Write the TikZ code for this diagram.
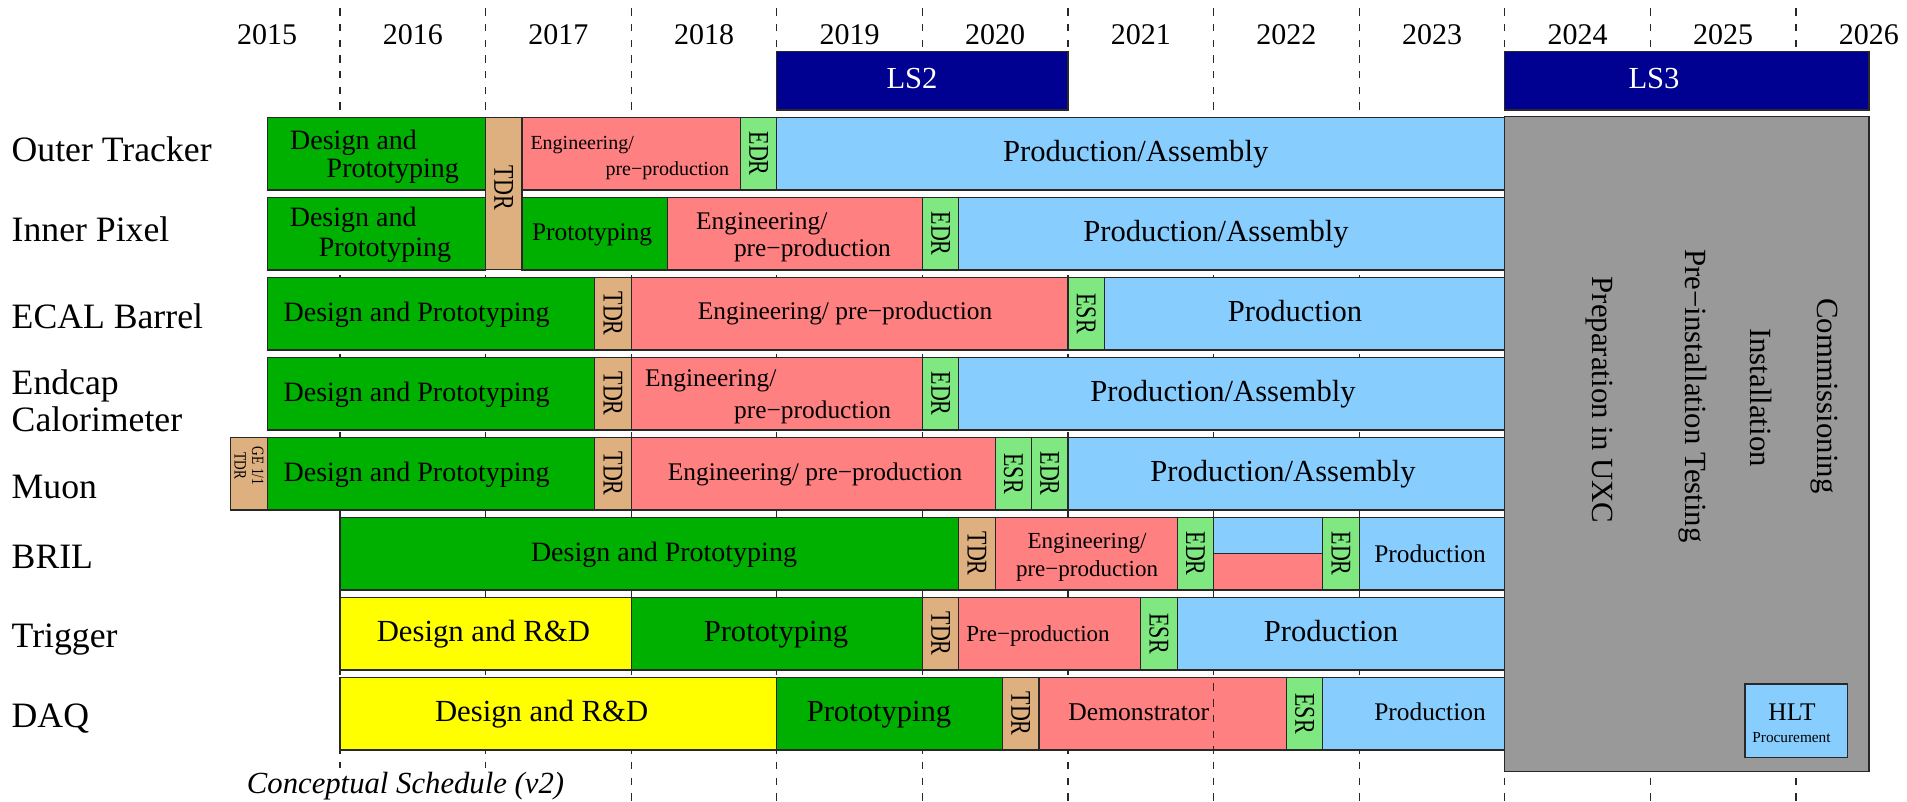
\documentclass[tikz,border=0pt]{standalone}
\usepackage{fontspec}
\setmainfont{Liberation Serif}
\definecolor{cgreen}{RGB}{0,176,0}
\definecolor{csalmon}{RGB}{255,128,128}
\definecolor{cblue}{RGB}{135,206,255}
\definecolor{ctan}{RGB}{222,176,128}
\definecolor{clgreen}{RGB}{128,232,128}
\definecolor{cyellow}{RGB}{255,255,0}
\definecolor{cnavy}{RGB}{0,0,145}
\definecolor{cgray}{RGB}{153,153,153}
\definecolor{cline}{RGB}{40,40,40}
% segment: name,row,q1,q2,colour
\newcommand\seg[5]{%
  \pgfmathsetmacro\xa{194.4+36.4*#3}%
  \pgfmathsetmacro\xb{194.4+36.4*#4}%
  \pgfmathsetmacro\xc{(\xa+\xb)/2}%
  \pgfmathsetmacro\yc{153.65+80*#2}%
  \pgfmathsetmacro\ww{\xb-\xa}%
  \node[segbox, fill=#5, minimum width=\ww pt, minimum height=72.7pt] (#1) at (\xc,\yc) {};}
% milestone: name,row,q1,q2,colour,text
\newcommand\mstone[6]{%
  \seg{#1}{#2}{#3}{#4}{#5}%
  \node[mstxt] (#1t) at (#1.center) {#6};}
% text: [anchor] name,x,y,size,text
\newcommand\bartext[6][base]{%
  \node[anchor=#1, inner sep=0pt, font=\fontsize{#5}{#5}\selectfont] (#2) at (#3,#4) {#6};}
\begin{document}
\begin{tikzpicture}[x=1pt,y=-1pt,
  segbox/.style={rectangle, draw=cline, line width=1.3pt, inner sep=0pt, outer sep=0pt},
  yearline/.style={draw=cline, line width=1.3pt, dash pattern=on 7.4pt off 8.3pt},
  mstxt/.style={rotate=-90, yscale=1.3, inner sep=0pt, font=\fontsize{22}{22}\selectfont},
  yearlbl/.style={anchor=base, inner sep=0pt, font=\fontsize{30}{30}\selectfont},
  rowlbl/.style={anchor=base west, inner sep=0pt, font=\fontsize{35.7}{37}\selectfont},
  graytxt/.style={rotate=-90, anchor=base, inner sep=0pt, font=\fontsize{30.8}{31}\selectfont},
  lsbox/.style={rectangle, draw=cline, line width=1.3pt, fill=cnavy, inner sep=0pt},
  ]
\useasboundingbox (0,0) rectangle (1907,802);
% year grid
\foreach \k in {0,...,10} {
  \draw[yearline] ({340+145.6*\k},8.3) -- ({340+145.6*\k},802);
}
\foreach \yr [count=\i from 0] in {2015,...,2026} {
  \node[yearlbl] (y\yr) at ({267.2+145.6*\i},45) {\yr};
}
% long shutdowns
\node[lsbox, minimum width=291.2pt, minimum height=58.3pt] (ls2) at (922.4,80.85) {};
\node[lsbox, minimum width=364.2pt, minimum height=58.3pt] (ls3) at (1686.9,80.85) {};
\bartext{ls2t}{912}{88.3}{30.6}{\color{white}LS2}
\bartext{ls3t}{1654}{88.3}{30.6}{\color{white}LS3}
% row labels
\node[rowlbl] (lOT) at (11.5,162) {Outer Tracker};
\node[rowlbl] (lIP) at (11.5,242) {Inner Pixel};
\node[rowlbl] (lEB) at (11.5,328.6) {ECAL Barrel};
\node[rowlbl] (lEC1) at (11.5,394.5) {Endcap};
\node[rowlbl] (lEC2) at (11.5,431.5) {Calorimeter};
\node[rowlbl] (lMu) at (11.5,498.6) {Muon};
\node[rowlbl] (lBR) at (11.5,568.6) {BRIL};
\node[rowlbl] (lTr) at (11.5,647) {Trigger};
\node[rowlbl] (lDA) at (11.5,727) {DAQ};
% ---- row 0 Outer Tracker
\seg{a1}{0}{2}{8}{cgreen}
\bartext[base west]{a1t1}{290}{150}{28}{Design and}
\bartext[base west]{a1t2}{326.5}{178}{28}{Prototyping}
\node[segbox, fill=ctan, minimum width=36.4pt, minimum height=152pt] (tdr01) at (503.8,193.3) {};
\node[mstxt] (tdr01t) at (503.8,188) {TDR};
\seg{a2}{0}{9}{15}{csalmon}
\bartext[base west]{a2t1}{530.3}{149.2}{20}{Engineering/}
\bartext[base east]{a2t2}{729.2}{175.5}{20}{pre−production}
\mstone{a3}{0}{15}{16}{clgreen}{EDR}
\seg{a4}{0}{16}{36}{cblue}
\bartext{a4t}{1135.7}{161.8}{30.6}{Production/Assembly}
% ---- row 1 Inner Pixel
\seg{b1}{1}{2}{8}{cgreen}
\bartext[base west]{b1t1}{289.6}{226.8}{28}{Design and}
\bartext[base west]{b1t2}{318.7}{256.8}{28}{Prototyping}
\seg{b2}{1}{9}{13}{cgreen}
\bartext{b2t}{592}{240.5}{25.4}{Prototyping}
\seg{b3}{1}{13}{20}{csalmon}
\bartext[base west]{b3t1}{696}{229.8}{25.4}{Engineering/}
\bartext[base east]{b3t2}{891}{257}{25.4}{pre−production}
\mstone{b4}{1}{20}{21}{clgreen}{EDR}
\seg{b5}{1}{21}{36}{cblue}
\bartext{b5t}{1216}{241.7}{30.6}{Production/Assembly}
% ---- row 2 ECAL Barrel
\seg{c1}{2}{2}{11}{cgreen}
\bartext{c1t}{416.6}{321.7}{28}{Design and Prototyping}
\mstone{c2}{2}{11}{12}{ctan}{TDR}
\seg{c3}{2}{12}{24}{csalmon}
\bartext{c3t}{845}{320}{25.4}{Engineering/ pre−production}
\mstone{c4}{2}{24}{25}{clgreen}{ESR}
\seg{c5}{2}{25}{36}{cblue}
\bartext{c5t}{1295}{321.7}{30.6}{Production}
% ---- row 3 Endcap Calorimeter
\seg{d1}{3}{2}{11}{cgreen}
\bartext{d1t}{416.6}{401.5}{28}{Design and Prototyping}
\mstone{d2}{3}{11}{12}{ctan}{TDR}
\seg{d3}{3}{12}{20}{csalmon}
\bartext[base west]{d3t1}{645}{386.5}{25.4}{Engineering/}
\bartext[base east]{d3t2}{891.2}{418.7}{25.4}{pre−production}
\mstone{d4}{3}{20}{21}{clgreen}{EDR}
\seg{d5}{3}{21}{36}{cblue}
\bartext{d5t}{1223}{401.7}{30.6}{Production/Assembly}
% ---- row 4 Muon
\seg{e0}{4}{1}{2}{ctan}
\node[mstxt, font=\fontsize{13.3}{13.5}\selectfont, align=center] (e0t) at (249,466) {GE 1/1\\TDR};
\seg{e1}{4}{2}{11}{cgreen}
\bartext{e1t}{416.6}{481.5}{28}{Design and Prototyping}
\mstone{e2}{4}{11}{12}{ctan}{TDR}
\seg{e3}{4}{12}{22}{csalmon}
\bartext{e3t}{815}{480}{25.4}{Engineering/ pre−production}
\mstone{e4}{4}{22}{23}{clgreen}{ESR}
\mstone{e5}{4}{23}{24}{clgreen}{EDR}
\seg{e6}{4}{24}{36}{cblue}
\bartext{e6t}{1283}{481.7}{30.6}{Production/Assembly}
% ---- row 5 BRIL
\seg{f1}{5}{4}{21}{cgreen}
\bartext{f1t}{664}{561.5}{28}{Design and Prototyping}
\mstone{f2}{5}{21}{22}{ctan}{TDR}
\seg{f3}{5}{22}{27}{csalmon}
\bartext{f3t1}{1087}{548}{23}{Engineering/}
\bartext{f3t2}{1087}{576.4}{23}{pre−production}
\mstone{f4}{5}{27}{28}{clgreen}{EDR}
\node[segbox, fill=cblue, minimum width=109.2pt, minimum height=36.35pt] (f5a) at (1268.2,535.5) {};
\node[segbox, fill=csalmon, minimum width=109.2pt, minimum height=36.35pt] (f5b) at (1268.2,571.8) {};
\mstone{f6}{5}{31}{32}{clgreen}{EDR}
\seg{f7}{5}{32}{36}{cblue}
\bartext{f7t}{1430}{562}{25.4}{Production}
% ---- row 6 Trigger
\seg{g1}{6}{4}{12}{cyellow}
\bartext{g1t}{483.4}{641.5}{30.7}{Design and R\&D}
\seg{g2}{6}{12}{20}{cgreen}
\bartext{g2t}{776}{641.5}{30.6}{Prototyping}
\mstone{g3}{6}{20}{21}{ctan}{TDR}
\seg{g4}{6}{21}{26}{csalmon}
\bartext{g4t}{1038}{641}{23}{Pre−production}
\mstone{g5}{6}{26}{27}{clgreen}{ESR}
\seg{g6}{6}{27}{36}{cblue}
\bartext{g6t}{1331}{641}{30.6}{Production}
% ---- row 7 DAQ
\seg{h1}{7}{4}{16}{cyellow}
\bartext{h1t}{541.6}{721}{30.7}{Design and R\&D}
\seg{h2}{7}{16}{22.2}{cgreen}
\bartext{h2t}{879}{721}{30.6}{Prototyping}
\mstone{h3}{7}{22.2}{23.2}{ctan}{TDR}
\seg{h4}{7}{23.2}{30}{csalmon}
\begin{scope}
  \clip (1040,678) rectangle (1286,749.5);
  \draw[yearline] (1213.6,8.3) -- (1213.6,802);
\end{scope}
\bartext{h4t}{1138.8}{720.3}{25.6}{Demonstrator}
\mstone{h5}{7}{30}{31}{clgreen}{ESR}
\seg{h6}{7}{31}{36}{cblue}
\bartext{h6t}{1430}{720.2}{25.4}{Production}
% ---- LS3 block
\node[segbox, fill=cgray, minimum width=364.2pt, minimum height=655pt] (ls3blk) at (1686.9,444.2) {};
\node[graytxt] (gx1) at (1592,400) {Preparation in UXC};
\node[graytxt] (gx2) at (1685,396) {Pre−installation Testing};
\node[graytxt] (gx3) at (1750,397.5) {Installation};
\node[graytxt] (gx4) at (1817,396) {Commissioning};
\node[segbox, fill=cblue, minimum width=102.3pt, minimum height=73.7pt] (hlt) at (1796.15,720.85) {};
\bartext{hltt1}{1792}{720}{25.4}{HLT}
\bartext{hltt2}{1791.5}{742.7}{15.3}{Procurement}
% caption
\node[anchor=base, fill=white, inner sep=4pt, font=\fontsize{30.7}{31}\selectfont\itshape] (cap) at (405.5,793.5) {Conceptual Schedule (v2)};
\end{tikzpicture}
\end{document}
